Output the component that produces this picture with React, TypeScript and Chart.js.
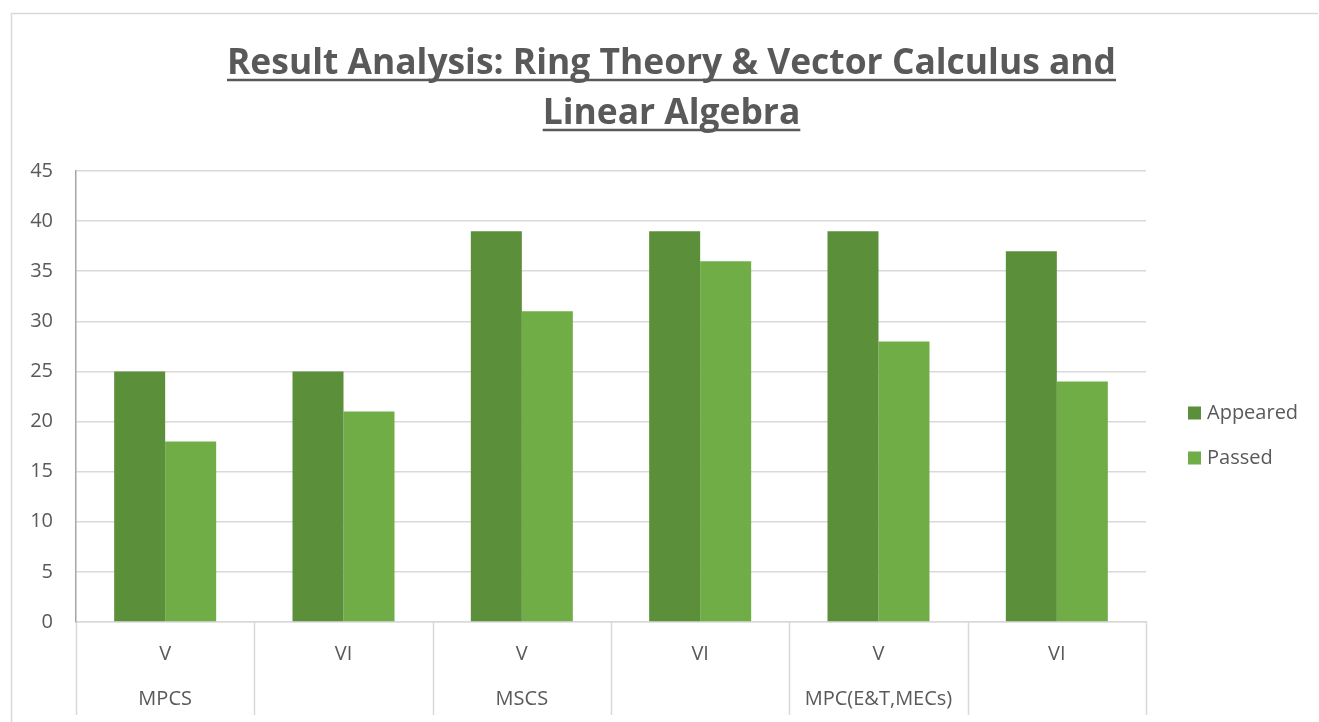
import React, { useEffect, useRef } from "react";
import { Chart, registerables } from "chart.js";

Chart.register(...registerables);

const CATEGORY_LABELS: string[][] = [
  ["V", "MPCS"],
  ["VI", ""],
  ["V", "MSCS"],
  ["VI", ""],
  ["V", "MPC(E&T,MECs)"],
  ["VI", ""],
];
const APPEARED: number[] = [25, 25, 39, 39, 39, 37];
const PASSED: number[] = [18, 21, 31, 36, 28, 24];
const SERIES_NAMES: string[] = ["Appeared", "Passed"];
const SERIES_COLORS: string[] = ["#5B8F3A", "#70AD47"];
const TITLE_LINES: string[] = [
  "Result Analysis: Ring Theory & Vector Calculus and",
  "Linear Algebra",
];
const Y_MIN = 0;
const Y_MAX = 45;
const Y_STEP = 5;

const TEXT_COLOR = "#595959";
const GRID_COLOR = "#D9D9D9";
const FONT_FAMILY = '"Open Sans", "Liberation Sans", sans-serif';

const framePlugin = {
  id: "frame",
  beforeDraw(chart: any) {
    const ctx = chart.ctx;
    ctx.save();
    ctx.strokeStyle = GRID_COLOR;
    ctx.lineWidth = 1.5;
    ctx.beginPath();
    ctx.moveTo(11.5, chart.height + 5);
    ctx.lineTo(11.5, 13.5);
    ctx.lineTo(1318, 13.5);
    ctx.stroke();
    ctx.restore();
  },
};

const titlePlugin = {
  id: "ulTitle",
  afterDraw(chart: any) {
    const ctx = chart.ctx;
    ctx.save();
    ctx.font = `bold 36px ${FONT_FAMILY}`;
    ctx.fillStyle = TEXT_COLOR;
    ctx.strokeStyle = TEXT_COLOR;
    ctx.textAlign = "center";
    ctx.textBaseline = "alphabetic";
    const w0 = ctx.measureText(TITLE_LINES[0]).width;
    const sx = 889 / w0;
    const cx = 671.5;
    const baselines = [74, 124];
    TITLE_LINES.forEach((line, i) => {
      const w = ctx.measureText(line).width;
      ctx.save();
      ctx.translate(cx, baselines[i]);
      ctx.scale(sx, 1);
      ctx.fillText(line, 0, 0);
      ctx.restore();
      const sw = w * sx;
      ctx.lineWidth = 2.6;
      ctx.beginPath();
      ctx.moveTo(cx - sw / 2, baselines[i] + 6);
      ctx.lineTo(cx + sw / 2, baselines[i] + 6);
      ctx.stroke();
    });
    ctx.restore();
  },
};

const separatorPlugin = {
  id: "separators",
  afterDraw(chart: any) {
    const x = chart.scales.x;
    const ctx = chart.ctx;
    const n = chart.data.labels.length;
    const step = (x.right - x.left) / n;
    ctx.save();
    ctx.strokeStyle = GRID_COLOR;
    ctx.lineWidth = 1.5;
    for (let i = 0; i <= n; i++) {
      const px = Math.round(x.left + step * i) + 0.5;
      ctx.beginPath();
      ctx.moveTo(px, x.top);
      ctx.lineTo(px, x.top + 93);
      ctx.stroke();
    }
    ctx.restore();
  },
};

const legendPlugin = {
  id: "customLegend",
  afterDraw(chart: any) {
    const ctx = chart.ctx;
    ctx.save();
    ctx.font = `20px ${FONT_FAMILY}`;
    ctx.textBaseline = "middle";
    ctx.textAlign = "left";
    const ys = [413, 458];
    chart.data.datasets.forEach((ds: any, i: number) => {
      ctx.fillStyle = ds.backgroundColor;
      ctx.fillRect(1188, ys[i] - 6.5, 13, 13);
      ctx.fillStyle = TEXT_COLOR;
      ctx.fillText(ds.label, 1207, ys[i]);
    });
    ctx.restore();
  },
};

export default function App() {
  const canvasRef = useRef<HTMLCanvasElement | null>(null);

  useEffect(() => {
    if (!canvasRef.current) return;
    const chart = new Chart(canvasRef.current, {
      type: "bar",
      data: {
        labels: CATEGORY_LABELS,
        datasets: [
          {
            label: SERIES_NAMES[0],
            data: APPEARED,
            backgroundColor: SERIES_COLORS[0],
            borderWidth: 0,
          },
          {
            label: SERIES_NAMES[1],
            data: PASSED,
            backgroundColor: SERIES_COLORS[1],
            borderWidth: 0,
          },
        ],
      },
      options: {
        responsive: false,
        animation: false,
        devicePixelRatio: 1,
        layout: { padding: { top: 171, right: 173, left: 0, bottom: 0 } },
        datasets: {
          bar: { categoryPercentage: 0.572, barPercentage: 1 },
        },
        plugins: {
          legend: { display: false },
          title: { display: false },
          tooltip: { enabled: false },
        },
        scales: {
          x: {
            afterFit: (scale: any) => {
              scale.height = 100;
            },
            grid: { display: false, drawTicks: false },
            border: { display: true, color: GRID_COLOR, width: 1.5 },
            ticks: {
              color: TEXT_COLOR,
              font: { family: FONT_FAMILY, size: 20, lineHeight: "45px" },
              padding: 10,
              maxRotation: 0,
              autoSkip: false,
            },
          },
          y: {
            min: Y_MIN,
            max: Y_MAX,
            afterFit: (scale: any) => {
              scale.width = 76;
            },
            grid: { color: GRID_COLOR, lineWidth: 1.5, drawTicks: false },
            border: { display: true, color: "#A6A6A6", width: 1.5 },
            ticks: {
              stepSize: Y_STEP,
              color: TEXT_COLOR,
              font: { family: FONT_FAMILY, size: 20 },
              padding: 23,
            },
          },
        },
      },
      plugins: [framePlugin, titlePlugin, separatorPlugin, legendPlugin],
    } as any);
    return () => chart.destroy();
  }, []);

  return (
    <div style={{ position: "absolute", left: 0, top: 0, width: 1319, height: 722, background: "#fff" }}>
      <canvas ref={canvasRef} width={1319} height={722} style={{ display: "block" }} />
    </div>
  );
}
